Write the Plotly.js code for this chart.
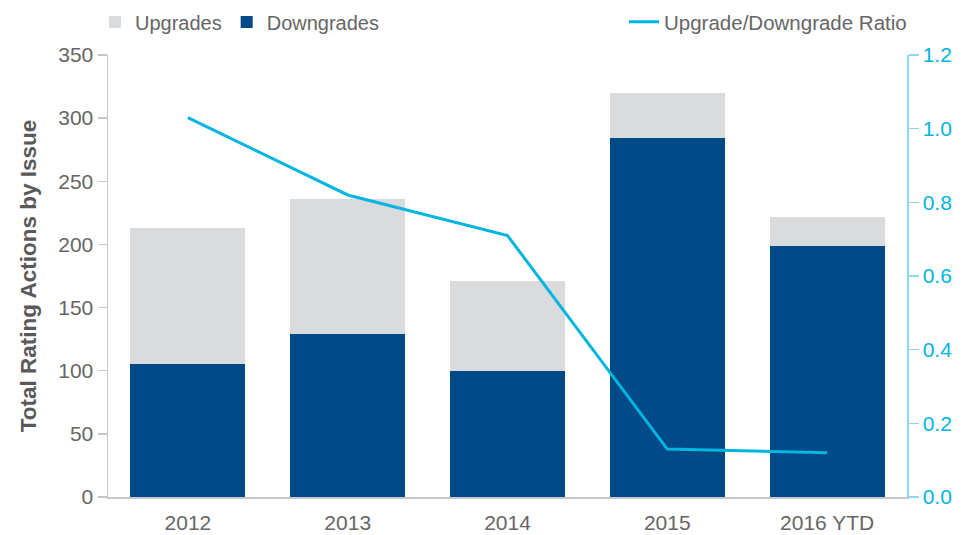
<!DOCTYPE html>
<html>
<head>
<meta charset="utf-8">
<script src="https://cdn.plot.ly/plotly-3.0.1.min.js"></script>
<style>html,body{margin:0;padding:0;background:#fff;}#chart{width:970px;height:535px;}</style>
</head>
<body>
<div id="chart"></div>
<script>
const categories = ['2012', '2013', '2014', '2015', '2016 YTD'];
const downgrades = [105, 129, 100, 284, 199];
const upgrades = [108, 107, 71, 36, 23];
const ratio = [1.03, 0.82, 0.71, 0.13, 0.12];
const leftTicks = [0, 50, 100, 150, 200, 250, 300, 350];
const rightTicks = [0, 0.2, 0.4, 0.6, 0.8, 1.0, 1.2];

const FONT = 'Liberation Sans, Arial, sans-serif';
const GREY = '#666666';
const CYAN = '#00b5e2';

const traces = [
  {
    type: 'bar', name: 'Downgrades', x: categories, y: downgrades,
    marker: {color: '#004b87'}, legend: 'legend', legendrank: 2,
    hoverinfo: 'skip'
  },
  {
    type: 'bar', name: 'Upgrades', x: categories, y: upgrades,
    marker: {color: '#dadbdd'}, legend: 'legend', legendrank: 1,
    hoverinfo: 'skip'
  },
  {
    type: 'scatter', mode: 'lines', name: 'Upgrade/Downgrade Ratio',
    x: categories, y: ratio, yaxis: 'y2',
    line: {color: CYAN, width: 3}, legend: 'legend2',
    hoverinfo: 'skip'
  }
];

const layout = {
  width: 970, height: 535,
  margin: {l: 108, r: 63, t: 55, b: 38},
  paper_bgcolor: '#fff', plot_bgcolor: '#fff',
  font: {family: FONT, color: GREY, size: 20},
  barmode: 'stack',
  bargap: 0.28,
  showlegend: true,
  legend: {
    orientation: 'h', traceorder: 'normal',
    xref: 'container', yref: 'container',
    x: 0.0979, xanchor: 'left', y: 0.959, yanchor: 'middle',
    font: {family: FONT, size: 20, color: GREY}, bgcolor: 'rgba(0,0,0,0)'
  },
  legend2: {
    orientation: 'h',
    xref: 'container', yref: 'container',
    x: 0.6433, xanchor: 'left', y: 0.959, yanchor: 'middle',
    font: {family: FONT, size: 20.5, color: GREY}, bgcolor: 'rgba(0,0,0,0)'
  },
  xaxis: {
    type: 'category',
    showline: true, linecolor: '#c8c8c8', linewidth: 1.5,
    ticks: '', showgrid: false, zeroline: false,
    tickfont: {family: FONT, size: 21, color: GREY},
    ticklabelstandoff: 6
  },
  yaxis: {
    range: [0, 350], tickvals: leftTicks,
    showline: true, linecolor: '#c8c8c8', linewidth: 1.5,
    ticks: 'outside', ticklen: 9, tickcolor: '#c8c8c8', tickwidth: 1.5,
    showgrid: false, zeroline: false,
    tickfont: {family: FONT, size: 21, color: GREY},
    title: {text: 'Total Rating Actions by Issue', font: {family: FONT, size: 22.5, color: '#595959', weight: 'bold'}, standoff: 15}
  },
  yaxis2: {
    range: [0, 1.2], tickvals: rightTicks, tickformat: '.1f',
    overlaying: 'y', side: 'right',
    showline: true, linecolor: '#8fd6ef', linewidth: 1.5,
    ticks: 'outside', ticklen: 10, tickcolor: '#8fd6ef', tickwidth: 1.5,
    showgrid: false, zeroline: false,
    tickfont: {family: FONT, size: 21, color: CYAN}
  }
};

Plotly.newPlot('chart', traces, layout, {displayModeBar: false, staticPlot: true});
</script>
</body>
</html>
